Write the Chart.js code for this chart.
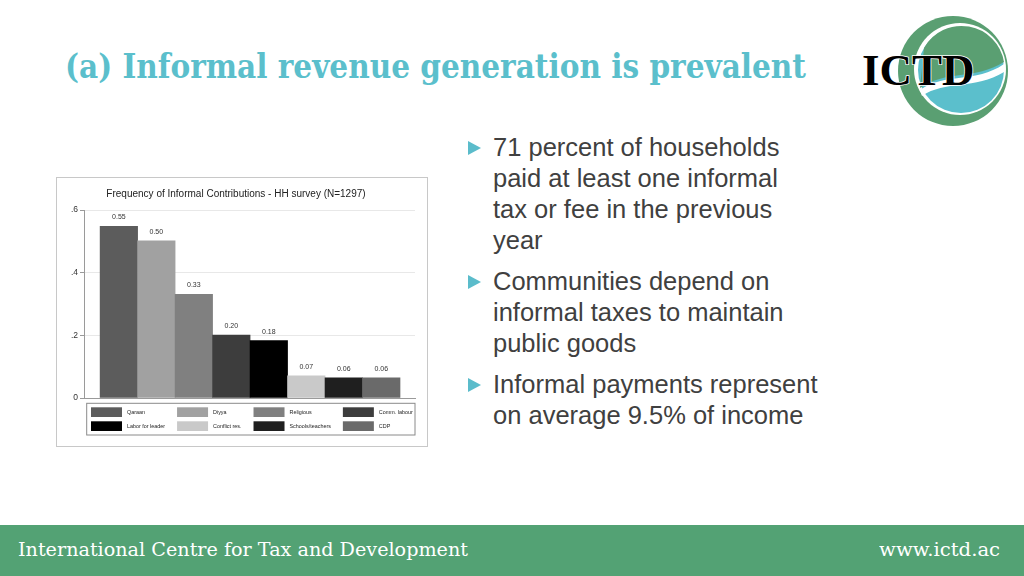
<!DOCTYPE html>
<html>
<head>
<meta charset="utf-8">
<script src="https://cdn.jsdelivr.net/npm/chart.js@4.4.1/dist/chart.umd.min.js"></script>
<style>
  body { margin: 0; width: 1024px; height: 576px; overflow: hidden; background: #fff; position: relative; font-family: "Liberation Sans", Arial, sans-serif; }
  .fit { position: absolute; white-space: nowrap; transform-origin: 0 50%; }
  #title { left: 65px; top: 47px; line-height: 40px; font: bold 33px "DejaVu Serif", serif; color: #5bbfcc; }
  #logo { position: absolute; left: 850px; top: 8px; }
  #bullets { position: absolute; left: 468px; top: 132px; margin: 0; padding: 0; list-style: none; }
  #bullets li { position: relative; padding-left: 25px; font-size: 25.5px; line-height: 31px; color: #404040; margin-bottom: 10px; }
  #bullets li::before { content: ""; position: absolute; left: 0; top: 9px; border-left: 13px solid #5bbccb; border-top: 7px solid transparent; border-bottom: 7px solid transparent; }
  #box { position: absolute; left: 56px; top: 177px; width: 370px; height: 268px; border: 1px solid #c8c8c8; background: #fff; }
  #footer { position: absolute; left: 0; top: 525px; width: 1024px; height: 51px; background: #53a274; }
  #footer .fit { top: 13px; line-height: 26px; font: 19px "DejaVu Serif", serif; color: #fff; }
  #org { left: 18px; }
  #url { right: 24px; transform-origin: 100% 50%; }
</style>
</head>
<body>

<div id="title" class="fit" data-w="741">(a) Informal revenue generation is prevalent</div>

<svg id="logo" width="170" height="125" viewBox="850 8 170 125">
  <circle cx="953" cy="71" r="55" fill="#5a9f72"/>
  <circle cx="960" cy="69" r="46" fill="#fff"/>
  <circle cx="961" cy="70" r="43" fill="#5bbfcc"/>
  <path d="M920 88 C 945 70, 975 80, 1004 62 A 43 43 0 0 0 924 48 Z" fill="#5a9f72"/>
  <path d="M920 90 C 945 72, 975 84, 1004 64 L 1004 72 C 975 90, 945 80, 922 96 Z" fill="#fff"/>
  <text x="862" y="85" font-family="Liberation Serif, serif" font-weight="bold" font-size="45" fill="#000" stroke="#fff" stroke-width="1.5" paint-order="stroke">ICTD</text>
</svg>

<ul id="bullets">
  <li>71 percent of households<br>paid at least one informal<br>tax or fee in the previous<br>year</li>
  <li>Communities depend on<br>informal taxes to maintain<br>public goods</li>
  <li>Informal payments represent<br>on average 9.5% of income</li>
</ul>

<div id="box"><canvas id="chart" width="370" height="268"></canvas></div>

<div id="footer">
  <div id="org" class="fit" data-w="450">International Centre for Tax and Development</div>
  <div id="url" class="fit" data-w="121">www.ictd.ac</div>
</div>

<script>
// dados do gráfico
const categorias = ['Qaraan', 'Diyya', 'Religious', 'Comm. labour', 'Labor for leader', 'Conflict res.', 'Schools/teachers', 'CDP'];
const frequencias = [0.548, 0.502, 0.331, 0.201, 0.183, 0.071, 0.064, 0.064];
const cores = ['#5c5c5c', '#a1a1a1', '#808080', '#3d3d3d', '#000000', '#c9c9c9', '#1f1f1f', '#6a6a6a'];
const yTicks = [0, 0.2, 0.4, 0.6];
const titulo = 'Frequency of Informal Contributions - HH survey (N=1297)';

// ajusta a largura dos textos
document.querySelectorAll('.fit').forEach(el => {
    const w = el.getBoundingClientRect().width;
    el.style.transform = `scaleX(${el.dataset.w / w})`;
});

// rótulos em cima das barras
const rotulosBarras = {
    id: 'rotulosBarras',
    afterDatasetsDraw(chart) {
        const ctx = chart.ctx;
        const meta = chart.getDatasetMeta(0);
        ctx.save();
        ctx.font = '7px "Liberation Sans", Arial, sans-serif';
        ctx.fillStyle = '#333';
        ctx.textAlign = 'center';
        ctx.textBaseline = 'middle';
        meta.data.forEach((bar, i) => {
            ctx.fillText(frequencias[i].toFixed(2), bar.x, bar.y - 9);
        });
        ctx.restore();
    }
};

// legenda estilo Stata (2 linhas x 4 colunas)
const legendaStata = {
    id: 'legendaStata',
    afterDraw(chart) {
        const ctx = chart.ctx;
        const left = 29.7, top = 225.3, width = 328.3, height = 31.7;
        ctx.save();
        ctx.strokeStyle = '#8a8a8a';
        ctx.lineWidth = 1;
        ctx.strokeRect(left, top, width, height);
        ctx.font = '5.4px "Liberation Sans", Arial, sans-serif';
        ctx.textBaseline = 'middle';
        const cols = 4;
        let x = left + 4.3;
        for (let c = 0; c < cols; c++) {
            let maxW = 0;
            for (let r = 0; r * cols + c < categorias.length; r++) {
                const i = r * cols + c;
                const y = top + 4 + r * 14;
                ctx.fillStyle = cores[i];
                ctx.fillRect(x, y, 31, 9.7);
                ctx.fillStyle = '#222';
                ctx.fillText(categorias[i], x + 36, y + 5);
                maxW = Math.max(maxW, ctx.measureText(categorias[i]).width);
            }
            x += 36 + maxW + 12;
        }
        ctx.restore();
    }
};

new Chart(document.getElementById('chart'), {
    type: 'bar',
    data: {
        labels: categorias,
        datasets: [{
            data: frequencias.map((v, i) => ({ x: i, y: v })),
            backgroundColor: cores,
            borderWidth: 0,
            barPercentage: 1,
            categoryPercentage: 1
        }]
    },
    options: {
        responsive: false,
        animation: false,
        layout: { padding: { left: 0, right: 12, top: 0, bottom: 48 } },
        plugins: {
            legend: { display: false },
            tooltip: { enabled: false },
            title: {
                display: true,
                text: titulo,
                color: '#222',
                font: { size: 10, weight: 'normal', family: '"Liberation Sans", Arial, sans-serif' },
                padding: { top: 10, bottom: 10 }
            }
        },
        scales: {
            x: {
                type: 'linear',
                min: -0.93,
                max: 7.9,
                offset: false,
                afterFit: s => { s.height = 0; },
                ticks: { display: false, stepSize: 1, includeBounds: false },
                grid: { display: false },
                border: { display: true, color: '#9a9a9a' }
            },
            y: {
                min: 0,
                max: 0.6,
                afterBuildTicks: s => { s.ticks = yTicks.map(v => ({ value: v })); },
                afterFit: s => { s.width = 27; },
                ticks: {
                    color: '#333',
                    padding: 2,
                    font: { size: 8.5, family: '"Liberation Sans", Arial, sans-serif' },
                    callback: v => v === 0 ? '0' : Number(v).toFixed(1).replace(/^0/, '')
                },
                grid: { color: '#e8e8e8', tickColor: '#9a9a9a', tickLength: 4 },
                border: { display: true, color: '#9a9a9a' }
            }
        }
    },
    plugins: [rotulosBarras, legendaStata]
});
</script>
</body>
</html>
